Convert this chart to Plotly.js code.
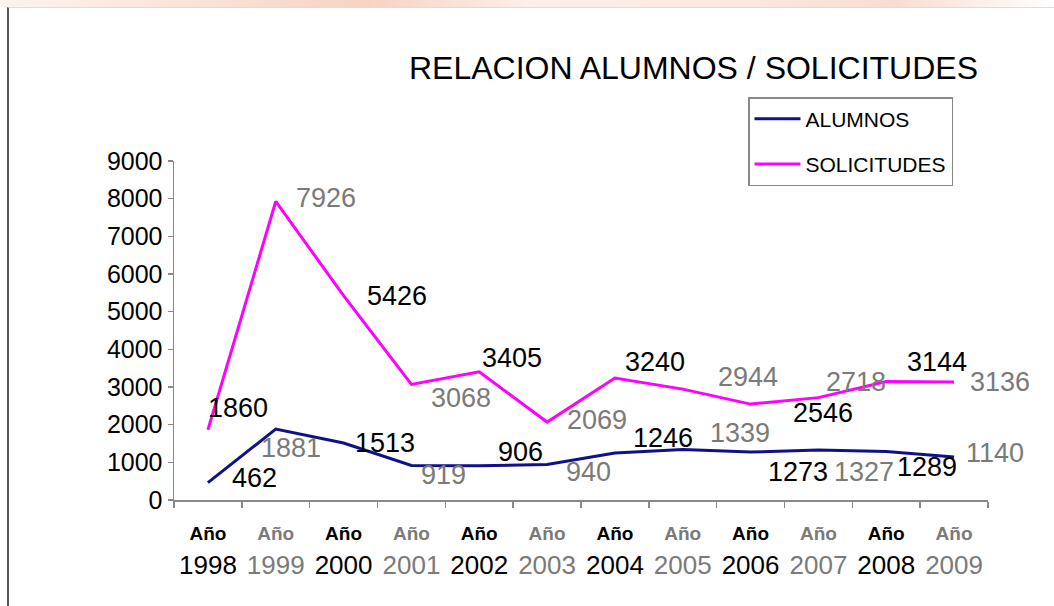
<!DOCTYPE html>
<html>
<head>
<meta charset="utf-8">
<script src="https://cdn.plot.ly/plotly-3.0.1.min.js"></script>
<style>
  html, body { margin: 0; padding: 0; background: #fff; }
  #wrap { position: relative; width: 1054px; height: 606px; overflow: hidden; }
  #strip { position: absolute; left: 0; top: 0; width: 1054px; height: 7px;
    background: linear-gradient(to right, #fdf3ee 0%, #fbe6dc 15%, #f7d3c3 35%, #fcefe8 50%, #fbe9e1 70%, #f9dcd0 85%, #fff 100%); }
  #frame { position: absolute; left: 7px; top: 7px; width: 1047px; height: 599px;
    border-left: 2px solid #555; border-top: 1px solid #ddd; box-sizing: border-box; }
  #plot { position: absolute; left: 0; top: 0; width: 1054px; height: 606px; }
</style>
</head>
<body>
<div id="wrap">
  <div id="strip"></div>
  <div id="frame"></div>
  <div id="plot"></div>
</div>
<script>
// ---- data ----
const years = ['1998','1999','2000','2001','2002','2003','2004','2005','2006','2007','2008','2009'];
const yearPrefix = 'Año';
const alumnos = [462, 1881, 1513, 919, 906, 940, 1246, 1339, 1273, 1327, 1289, 1140];
const solicitudes = [1860, 7926, 5426, 3068, 3405, 2069, 3240, 2944, 2546, 2718, 3144, 3136];
const seriesNames = ['ALUMNOS', 'SOLICITUDES'];
const chartTitle = 'RELACION ALUMNOS / SOLICITUDES';

// ---- label placement (pixel offsets: right, down) ----
const aluOffsets = [[47,-5],[15,19],[41,0],[32,10],[41,-14],[41,7],[48,-15],[57,-17],[47,20],[46,22],[41,16],[41,-4]];
const solOffsets = [[30,-22],[50,-3],[53,0],[50,14],[33,-14],[50,-2],[40,-16],[65,-12],[72,9],[38,-16],[51,-20],[46,0]];

const BLACK = '#000000';
const GRAY = '#7a7a7a';
const FONT = 'Liberation Sans, Arial, sans-serif';
const colorFor = i => (i % 2 === 0 ? BLACK : GRAY);

const traces = [
  { x: years, y: alumnos, name: seriesNames[0], type: 'scatter', mode: 'lines',
    line: { color: '#10108a', width: 3 }, legendgroup: 'a', hoverinfo: 'x+y' },
  { x: years, y: solicitudes, name: seriesNames[1], type: 'scatter', mode: 'lines',
    line: { color: '#ff00ff', width: 3 }, legendgroup: 'b', hoverinfo: 'x+y' }
];

const annotations = [];
function addLabels(vals, offs) {
  vals.forEach((v, i) => {
    annotations.push({
      x: i, y: v, xref: 'x', yref: 'y', text: String(v), showarrow: false,
      xshift: offs[i][0], yshift: -offs[i][1], xanchor: 'center', yanchor: 'middle',
      font: { family: FONT, size: 27, color: colorFor(i) }
    });
  });
}
addLabels(alumnos, aluOffsets);
addLabels(solicitudes, solOffsets);

const ticktext = years.map((y, i) => {
  const c = colorFor(i);
  return `<span style="color:${c};font-size:19px;font-weight:bold">${yearPrefix}</span><br><span style="color:${c}">${y}</span>`;
});

const layout = {
  width: 1054, height: 606,
  margin: { l: 174, r: 66, t: 161, b: 106 },
  paper_bgcolor: 'rgba(0,0,0,0)', plot_bgcolor: 'rgba(0,0,0,0)',
  font: { family: FONT, color: '#000' },
  title: { text: chartTitle, x: 978 / 1054, xref: 'container', xanchor: 'right',
    y: 1 - 68 / 606, yref: 'container', yanchor: 'middle',
    font: { family: FONT, size: 32, color: '#000' } },
  xaxis: { type: 'category', range: [-0.5, 11.5], tickmode: 'array', tickvals: years, ticktext: ticktext,
    tickson: 'boundaries', ticks: 'outside', ticklen: 6, tickcolor: '#888', tickwidth: 1.5,
    showline: true, linecolor: '#888', linewidth: 1.5, showgrid: false, zeroline: false,
    tickfont: { family: FONT, size: 26, color: '#000' }, ticklabelstandoff: 7, fixedrange: true },
  yaxis: { range: [0, 9000], dtick: 1000, tick0: 0, ticks: 'outside', ticklen: 5, tickcolor: '#888', tickwidth: 1.5,
    showline: true, linecolor: '#888', linewidth: 1.5, showgrid: false, zeroline: false,
    tickfont: { family: FONT, size: 25, color: '#000' }, fixedrange: true },
  showlegend: true,
  legend: { x: (748 - 174) / 814, y: (500 - 97) / 339, xanchor: 'left', yanchor: 'top',
    bordercolor: '#888', borderwidth: 1.5, bgcolor: 'rgba(255,255,255,0)',
    font: { family: FONT, size: 21, color: '#000' }, itemwidth: 46,
    traceorder: 'grouped', tracegroupgap: 15 },
  annotations: annotations
};

Plotly.newPlot('plot', traces, layout, { displayModeBar: false, staticPlot: true });
</script>
</body>
</html>
